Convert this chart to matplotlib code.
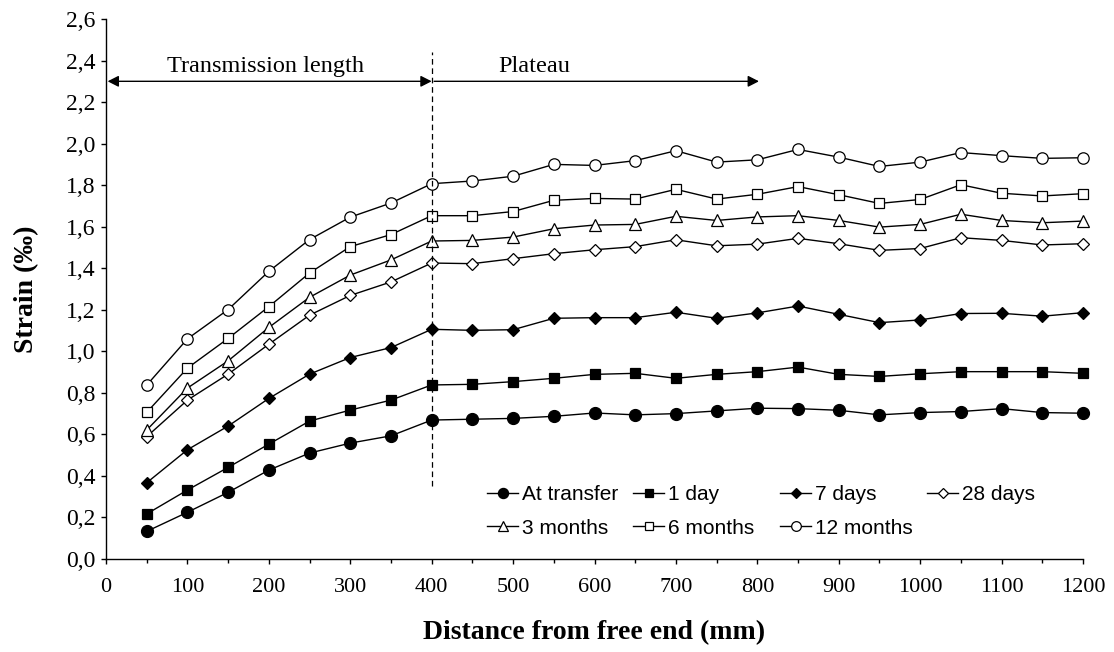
import matplotlib
matplotlib.use("Agg")
import matplotlib.pyplot as plt
from matplotlib.ticker import MultipleLocator, FixedLocator, FuncFormatter

# Distance from the free end (mm)
distance = [50, 100, 150, 200, 250, 300, 350, 400, 450, 500, 550, 600,
            650, 700, 750, 800, 850, 900, 950, 1000, 1050, 1100, 1150, 1200]

# Strain (per mille) at each age
at_transfer = [0.133, 0.225, 0.321, 0.428, 0.510, 0.558, 0.593, 0.669, 0.673, 0.677, 0.687, 0.703,
               0.694, 0.700, 0.713, 0.726, 0.724, 0.716, 0.694, 0.705, 0.710, 0.724, 0.705, 0.702]
one_day = [0.217, 0.332, 0.441, 0.553, 0.664, 0.717, 0.765, 0.838, 0.841, 0.854, 0.870, 0.889,
           0.894, 0.870, 0.889, 0.902, 0.924, 0.889, 0.879, 0.892, 0.902, 0.902, 0.902, 0.894]
seven_days = [0.367, 0.526, 0.640, 0.773, 0.890, 0.970, 1.018, 1.106, 1.101, 1.104, 1.159, 1.162,
              1.162, 1.188, 1.159, 1.185, 1.218, 1.178, 1.138, 1.151, 1.182, 1.183, 1.169, 1.186]
twenty_eight_days = [0.589, 0.765, 0.890, 1.034, 1.174, 1.269, 1.334, 1.425, 1.422, 1.446, 1.470, 1.489,
                     1.504, 1.537, 1.508, 1.516, 1.544, 1.518, 1.486, 1.495, 1.547, 1.534, 1.512, 1.518]
three_months = [0.621, 0.823, 0.954, 1.115, 1.260, 1.367, 1.440, 1.531, 1.534, 1.550, 1.590, 1.608,
                1.611, 1.650, 1.630, 1.647, 1.653, 1.630, 1.598, 1.611, 1.660, 1.630, 1.619, 1.627]
six_months = [0.706, 0.919, 1.062, 1.215, 1.377, 1.504, 1.562, 1.653, 1.653, 1.673, 1.727, 1.736,
              1.733, 1.780, 1.733, 1.756, 1.793, 1.754, 1.712, 1.731, 1.802, 1.761, 1.748, 1.759]
twelve_months = [0.837, 1.060, 1.201, 1.385, 1.538, 1.646, 1.714, 1.807, 1.820, 1.843, 1.900, 1.895,
                 1.918, 1.966, 1.911, 1.922, 1.972, 1.935, 1.890, 1.911, 1.957, 1.942, 1.929, 1.932]

series_labels = ["At transfer", "1 day", "7 days", "28 days", "3 months", "6 months", "12 months"]
series_values = [at_transfer, one_day, seven_days, twenty_eight_days,
                 three_months, six_months, twelve_months]

y_ticks = [0.0, 0.2, 0.4, 0.6, 0.8, 1.0, 1.2, 1.4, 1.6, 1.8, 2.0, 2.2, 2.4, 2.6]
x_ticks = [0, 100, 200, 300, 400, 500, 600, 700, 800, 900, 1000, 1100, 1200]

# marker style per series: (marker, size, face colour)
styles = [
    ("o", 8.6, "black"),
    ("s", 6.8, "black"),
    ("D", 6.3, "black"),
    ("D", 6.3, "white"),
    ("^", 8.3, "white"),
    ("s", 7.6, "white"),
    ("o", 8.2, "white"),
]

W, H = 1114, 652
fig = plt.figure(figsize=(W / 100, H / 100), dpi=100)
ax = fig.add_axes([106 / W, 1 - 559 / H, (1083 - 106) / W, (559 - 19) / H])

serif = "Liberation Serif"
sans = ["Liberation Sans Narrow", "Liberation Sans"]

handles = []
for vals, lab, (mk, ms, fc) in zip(series_values, series_labels, styles):
    ln, = ax.plot(distance, vals, color="black", lw=1.0, marker=mk, ms=ms,
                  mfc=fc, mec="black", mew=0.9, label=lab, zorder=2,
                  clip_on=False)
    handles.append(ln)

ax.set_xlim(0, 1200)
ax.set_ylim(0, 2.6)
ax.xaxis.set_major_locator(FixedLocator(x_ticks))
ax.xaxis.set_minor_locator(MultipleLocator(50))
ax.yaxis.set_major_locator(FixedLocator(y_ticks))
ax.yaxis.set_major_formatter(FuncFormatter(lambda v, p: f"{v:.1f}".replace(".", ",")))
ax.xaxis.set_major_formatter(FuncFormatter(lambda v, p: f"{int(round(v))}"))

for s in ("top", "right"):
    ax.spines[s].set_visible(False)
for s in ("left", "bottom"):
    ax.spines[s].set_linewidth(1.0)

ax.tick_params(axis="both", which="major", direction="out", length=3.4, width=1.0)
ax.tick_params(axis="x", which="major", labelsize=16, pad=10)
ax.tick_params(axis="y", which="major", labelsize=17, pad=4)
ax.tick_params(axis="x", which="minor", direction="out", length=3.0, width=1.0)
for t in ax.get_xticklabels() + ax.get_yticklabels():
    t.set_fontfamily(serif)

ax.set_xlabel("Distance from free end (mm)", fontfamily=serif, fontsize=20, fontweight="bold")
ax.set_ylabel("Strain (‰)", fontfamily=serif, fontsize=20, fontweight="bold")
ax.xaxis.set_label_coords(0.5, (559 - 633) / 540)
ax.yaxis.set_label_coords((27 - 106) / 977, 0.5)
ax.xaxis.label.set_verticalalignment("center")
ax.yaxis.label.set_verticalalignment("center")

# boundary between transmission zone and plateau
ax.vlines(400, 0.35, 2.44, colors="black", lw=0.9, linestyles=(0, (4.5, 3)), zorder=3)

arrow_y = 2.30
ax.annotate("", xy=(400, arrow_y), xytext=(2, arrow_y),
            arrowprops=dict(arrowstyle="<|-|>,head_length=0.55,head_width=0.28",
                            color="black", lw=1.0, shrinkA=0, shrinkB=0,
                            mutation_scale=12))
ax.annotate("", xy=(802, arrow_y), xytext=(403, arrow_y),
            arrowprops=dict(arrowstyle="-|>,head_length=0.55,head_width=0.28",
                            color="black", lw=1.0, shrinkA=0, shrinkB=0,
                            mutation_scale=12))
ax.text(196, 2.345, "Transmission length", ha="center", va="baseline",
        fontfamily=serif, fontsize=17.5)
ax.text(482, 2.345, "Plateau", ha="left", va="baseline",
        fontfamily=serif, fontsize=17.5)

# legend laid out as a grid of single entries
col_x = [487, 633, 780, 927]
row_y = [495, 528]
for i, (h, lab) in enumerate(zip(handles, series_labels)):
    r, c = divmod(i, 4)
    fig.legend(handles=[h], labels=[lab], loc="center left",
               bbox_to_anchor=(col_x[c] / W, 1 - row_y[r] / H),
               frameon=False, borderpad=0, borderaxespad=0,
               handlelength=1.5, handletextpad=0.2, markerscale=0.85,
               prop={"family": sans, "size": 15})

fig.savefig("out.png", dpi=100, facecolor="white")
